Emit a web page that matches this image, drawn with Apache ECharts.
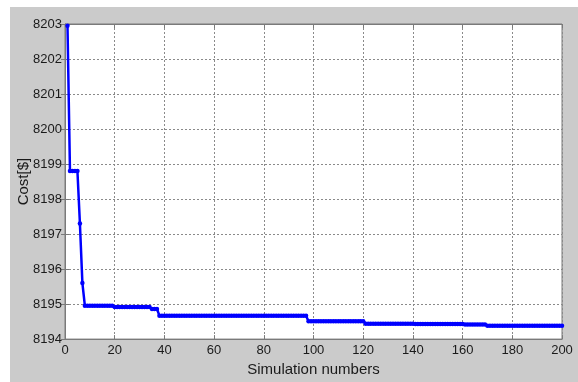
<!DOCTYPE html>
<html>
<head>
<meta charset="utf-8">
<script src="https://cdn.jsdelivr.net/npm/echarts@6/dist/echarts.min.js"></script>
<style>
  body { margin: 0; background: #fff; }
  #wrap { position: relative; width: 578px; height: 382px; }
  #bg { position: absolute; left: 10px; top: 7px; right: 0; bottom: 0; background: #cbcbcb; }
  #chart { position: absolute; left: 0; top: 0; width: 578px; height: 382px; }
</style>
</head>
<body>
<div id="wrap"><div id="bg"></div><div id="chart"></div></div>
<script>
// cost per simulation run (runs 1..200)
const costs = [
  8202.95,
  8198.8, 8198.8, 8198.8, 8198.8,
  8197.3, 8195.6,
  8194.95, 8194.95, 8194.95, 8194.95, 8194.95, 8194.95, 8194.95, 8194.95, 8194.95, 8194.95, 8194.95, 8194.95,
  8194.92, 8194.92, 8194.92, 8194.92, 8194.92, 8194.92, 8194.92, 8194.92, 8194.92, 8194.92, 8194.92, 8194.92, 8194.92, 8194.92, 8194.92,
  8194.86, 8194.86, 8194.86,
  8194.67, 8194.67, 8194.67, 8194.67, 8194.67, 8194.67, 8194.67, 8194.67, 8194.67, 8194.67,
  8194.67, 8194.67, 8194.67, 8194.67, 8194.67, 8194.67, 8194.67, 8194.67, 8194.67, 8194.67,
  8194.67, 8194.67, 8194.67, 8194.67, 8194.67, 8194.67, 8194.67, 8194.67, 8194.67, 8194.67,
  8194.67, 8194.67, 8194.67, 8194.67, 8194.67, 8194.67, 8194.67, 8194.67, 8194.67, 8194.67,
  8194.67, 8194.67, 8194.67, 8194.67, 8194.67, 8194.67, 8194.67, 8194.67, 8194.67, 8194.67,
  8194.67, 8194.67, 8194.67, 8194.67, 8194.67, 8194.67, 8194.67, 8194.67, 8194.67, 8194.67,
  8194.51, 8194.51, 8194.51, 8194.51, 8194.51, 8194.51, 8194.51, 8194.51, 8194.51, 8194.51, 8194.51, 8194.51,
  8194.51, 8194.51, 8194.51, 8194.51, 8194.51, 8194.51, 8194.51, 8194.51, 8194.51, 8194.51, 8194.51,
  8194.44, 8194.44, 8194.44, 8194.44, 8194.44, 8194.44, 8194.44, 8194.44, 8194.44, 8194.44,
  8194.44, 8194.44, 8194.44, 8194.44, 8194.44, 8194.44, 8194.44, 8194.44, 8194.44, 8194.44,
  8194.43, 8194.43, 8194.43, 8194.43, 8194.43, 8194.43, 8194.43, 8194.43, 8194.43, 8194.43,
  8194.43, 8194.43, 8194.43, 8194.43, 8194.43, 8194.43, 8194.43, 8194.43, 8194.43, 8194.43,
  8194.42, 8194.42, 8194.42, 8194.42, 8194.42, 8194.42, 8194.42, 8194.42, 8194.42,
  8194.38, 8194.38, 8194.38, 8194.38, 8194.38, 8194.38, 8194.38, 8194.38, 8194.38, 8194.38,
  8194.38, 8194.38, 8194.38, 8194.38, 8194.38, 8194.38, 8194.38, 8194.38, 8194.38, 8194.38,
  8194.38, 8194.38, 8194.38, 8194.38, 8194.38, 8194.38, 8194.38, 8194.38, 8194.38, 8194.38, 8194.38
]
const xTicks = [0, 200, 20]      // min, max, interval
const yTicks = [8194, 8203, 1]

const points = costs.map((v, i) => [i + 1, v])

const txt = { color: '#1a1a1a', fontFamily: 'Liberation Sans, Arial', fontSize: 13 }
const gridLine = { show: true, lineStyle: { color: '#8a8a8a', type: [2, 2], width: 1 } }
const axLine = { show: true, lineStyle: { color: '#7a7a7a', width: 1 } }
const tick = { show: true, inside: true, length: 4, lineStyle: { color: '#7a7a7a' } }

let chart = echarts.init(document.getElementById('chart'))
chart.setOption({
  animation: false,
  grid: {
    left: 65, top: 24, width: 497, height: 320,
    show: true, backgroundColor: '#fff', borderColor: '#7a7a7a', borderWidth: 1
  },
  xAxis: [{
    type: 'value', min: xTicks[0], max: xTicks[1], interval: xTicks[2],
    name: 'Simulation numbers', nameLocation: 'middle', nameGap: 17,
    nameTextStyle: { color: '#1a1a1a', fontFamily: 'Liberation Sans, Arial', fontSize: 15 },
    axisLine: axLine, axisTick: tick, splitLine: gridLine,
    axisLabel: { ...txt, margin: 5, formatter: v => String(v) }
  }, {
    type: 'value', position: 'top', min: xTicks[0], max: xTicks[1], interval: xTicks[2],
    axisLine: axLine, axisTick: tick, axisLabel: { show: false }, splitLine: { show: false }
  }],
  yAxis: [{
    type: 'value', min: yTicks[0], max: yTicks[1], interval: yTicks[2],
    name: 'Cost[$]', nameLocation: 'middle', nameGap: 34, nameMoveOverlap: false,
    nameTextStyle: { color: '#1a1a1a', fontFamily: 'Liberation Sans, Arial', fontSize: 15 },
    axisLine: axLine, axisTick: tick, splitLine: gridLine,
    axisLabel: { ...txt, margin: 3, formatter: v => String(v) }
  }, {
    type: 'value', position: 'right', min: yTicks[0], max: yTicks[1], interval: yTicks[2],
    axisLine: axLine, axisTick: tick, axisLabel: { show: false }, splitLine: { show: false }
  }],
  series: [{
    type: 'line',
    data: points,
    symbol: 'circle',
    symbolSize: 4.5,
    showAllSymbol: true,
    itemStyle: { color: '#0000ff' },
    lineStyle: { color: '#0000ff', width: 2.5 }
  }]
})
</script>
</body>
</html>
